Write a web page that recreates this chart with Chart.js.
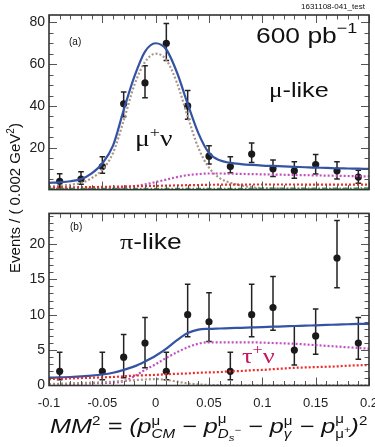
<!DOCTYPE html>
<html>
<head>
<meta charset="utf-8">
<script src="https://cdn.jsdelivr.net/npm/chart.js@4.4.1/dist/chart.umd.min.js"></script>
<style>
  body { margin: 0; background: #fff; }
  #wrap { position: relative; width: 375px; height: 447px; overflow: hidden; font-family: 'Liberation Sans', Arial, sans-serif; color: #111; }
  canvas { position: absolute; left: 0; }
  .t { position: absolute; line-height: 1; white-space: nowrap; }
  .sx { transform: scaleX(1.2); transform-origin: left top; }
  .gr { font-family: 'Liberation Serif', 'DejaVu Serif', serif; }
  .st { display: inline-block; vertical-align: -0.45em; font-size: 0.6em; line-height: 1.1; font-style: normal; }
  .st span { display: block; }
</style>
</head>
<body>
<div id="wrap">
  <canvas id="topChart" width="375" height="202" style="top:0"></canvas>
  <canvas id="botChart" width="375" height="246" style="top:201px"></canvas>

  <div class="t" style="left:301px;top:3px;font-size:8px">1631108-041_test</div>
  <div class="t sx" style="left:256px;top:20px;font-size:22px">600 pb<sup style="font-size:15px;vertical-align:10px">&minus;1</sup></div>
  <div class="t" style="left:69px;top:37px;font-size:10px">(a)</div>
  <div class="t sx" style="left:269px;top:79px;font-size:21px"><span class="gr">&mu;</span>-like</div>
  <div class="t sx gr" style="left:135px;top:125px;font-size:23px">&mu;<sup style="font-size:15px;vertical-align:9px">+</sup>&nu;</div>
  <div class="t" style="left:70px;top:222px;font-size:10px">(b)</div>
  <div class="t sx" style="left:120px;top:231px;font-size:22px"><span class="gr">&pi;</span>-like</div>
  <div class="t sx gr" style="left:242px;top:342px;font-size:22px;color:#c8175d">&tau;<sup style="font-size:15px;vertical-align:9px">+</sup>&nu;</div>
  <div class="t" style="left:14px;top:198px;font-size:15px;transform:translate(-50%,-50%) rotate(-90deg)">Events / ( 0.002 GeV<sup style="font-size:10px">2</sup>)</div>
  <div class="t" style="left:50px;top:413px;font-size:20px;font-style:italic;transform:scaleX(1.26);transform-origin:left top">MM<sup style="font-size:12px;font-style:normal">2</sup> = (p<span class="st"><span>&mu;</span><span style="font-style:italic">CM</span></span> &minus; p<span class="st"><span>&mu;</span><span style="font-style:italic">D<sub style="font-size:0.75em">s</sub><sup style="font-size:0.75em">&minus;</sup></span></span> &minus; p<span class="st"><span>&mu;</span><span style="font-style:italic">&gamma;</span></span> &minus; p<span class="st"><span>&mu;</span><span>&mu;<sup style="font-size:0.75em">+</sup></span></span>)<sup style="font-size:12px;font-style:normal">2</sup></div>
</div>

<script>
// fit curves are sampled on this grid
const xGrid = [-0.1, -0.09, -0.08, -0.07, -0.06, -0.05, -0.04, -0.03, -0.02, -0.01, 0, 0.01, 0.02, 0.03, 0.04, 0.05, 0.06, 0.07, 0.08, 0.09, 0.1, 0.11, 0.12, 0.13, 0.14, 0.15, 0.16, 0.17, 0.18, 0.19, 0.2];
const xTicks = [-0.1, -0.05, 0, 0.05, 0.1, 0.15, 0.2];

// (a) mu-like
const topX = [-0.09, -0.07, -0.05, -0.03, -0.01, 0.01, 0.03, 0.05, 0.07, 0.09, 0.11, 0.13, 0.15, 0.17, 0.19];
const topY = [4, 5, 11, 41, 51, 70, 40, 16, 11, 17, 10, 9, 12, 9, 6];
const topLo = [0.8, 2.6, 7.8, 34.8, 43.9, 61.7, 33.6, 12.3, 8.0, 13, 6.3, 5.4, 7.5, 5.1, 3.0];
const topHi = [7.6, 8.5, 15.7, 46.7, 59.2, 79.4, 47.4, 21, 15.7, 22.3, 14.2, 13.3, 16.8, 13.3, 9.3];
const topTotal = [3.2, 3.5, 4.0, 5.0, 7.8, 12.5, 21, 38, 54, 66, 70, 67, 56, 41, 27, 17.5, 14, 12.8, 12.2, 11.8, 11.5, 11.3, 11.1, 10.9, 10.7, 10.5, 10.4, 10.2, 10.1, 10.0, 9.9];
const topMuNu = [1.5, 1.8, 2.3, 3.2, 5.5, 9.5, 17.5, 33, 50, 61, 65, 62, 51, 35, 20, 10.5, 5.5, 3.3, 2.0, 1.1, 0.7, 0.5, 0.4, 0.3, 0.3, 0.2, 0.2, 0.2, 0.2, 0.2, 0.2];
const topTauNu = [0.3, 0.3, 0.3, 0.35, 0.4, 0.5, 0.7, 1.0, 1.6, 2.5, 3.6, 4.8, 6.0, 6.9, 7.4, 7.7, 7.7, 7.6, 7.5, 7.4, 7.3, 7.2, 7.1, 7.0, 6.9, 6.8, 6.7, 6.6, 6.5, 6.4, 6.3];
const topOther = [1.0, 1.05, 1.1, 1.15, 1.2, 1.3, 1.4, 1.5, 1.6, 1.7, 1.8, 1.9, 2.0, 2.1, 2.2, 2.3, 2.35, 2.4, 2.4, 2.45, 2.45, 2.45, 2.45, 2.45, 2.4, 2.4, 2.4, 2.4, 2.4, 2.4, 2.4];
const topPiNu = [0.3, 0.3, 0.3, 0.3, 0.3, 0.3, 0.3, 0.3, 0.3, 0.3, 0.3, 0.35, 0.35, 0.35, 0.35, 0.4, 0.4, 0.4, 0.4, 0.4, 0.45, 0.45, 0.45, 0.45, 0.5, 0.5, 0.5, 0.5, 0.5, 0.55, 0.55];
const topYTicks = [20, 40, 60, 80];

// (b) pi-like
const botX = [-0.09, -0.05, -0.03, -0.01, 0.01, 0.03, 0.05, 0.07, 0.09, 0.11, 0.13, 0.15, 0.17, 0.19];
const botY = [2, 2, 4, 6, 2, 10, 9, 2, 10, 11, 5, 7, 18, 6];
const botLo = [0.8, 0.8, 1.1, 2.5, 0.8, 6.9, 6.2, 0.8, 6.9, 7.8, 2.9, 4.4, 13.8, 3.7];
const botHi = [4.7, 4.7, 7.2, 9.6, 4.7, 14.3, 13.1, 4.7, 14.3, 15.4, 8.4, 10.8, 23.3, 9.6];
const botTotal = [1.1, 1.15, 1.2, 1.3, 1.4, 1.55, 1.8, 2.2, 2.7, 3.4, 4.2, 5.2, 6.4, 7.4, 7.9, 8.0, 8.05, 8.1, 8.15, 8.2, 8.25, 8.3, 8.35, 8.4, 8.45, 8.5, 8.55, 8.6, 8.65, 8.7, 8.7];
const botTauNu = [0.2, 0.2, 0.2, 0.25, 0.3, 0.35, 0.4, 0.6, 1.3, 2.2, 3.0, 3.9, 4.7, 5.4, 5.9, 6.1, 6.1, 6.1, 6.1, 6.1, 6.05, 6.0, 5.95, 5.9, 5.8, 5.7, 5.6, 5.5, 5.4, 5.3, 5.2];
const botOther = [0.9, 0.95, 1.0, 1.05, 1.1, 1.15, 1.2, 1.3, 1.4, 1.45, 1.5, 1.6, 1.65, 1.7, 1.8, 1.85, 1.9, 2.0, 2.05, 2.15, 2.2, 2.3, 2.4, 2.5, 2.55, 2.6, 2.65, 2.7, 2.8, 2.85, 2.9];
const botMuNu = [0.2, 0.25, 0.3, 0.35, 0.4, 0.45, 0.55, 0.65, 0.75, 0.85, 0.9, 0.8, 0.55, 0.3, 0.15, 0.08, 0.05, 0.04, 0.03, 0.03, 0.03, 0.03, 0.03, 0.03, 0.03, 0.03, 0.03, 0.03, 0.03, 0.03, 0.03];
const botYTicks = [0, 5, 10, 15, 20];

Chart.defaults.font.family = "'Liberation Sans', Arial, sans-serif";
Chart.defaults.color = '#222';

function pts(xs, ys) {
    return xs.map(function(x, i) { return { x: x, y: ys[i] }; });
}

function curve(ys, color, dash) {
    return {
        type: 'line',
        data: pts(xGrid, ys),
        borderColor: color,
        borderWidth: 2.2,
        borderDash: dash || [],
        pointRadius: 0,
        cubicInterpolationMode: 'monotone',
        fill: false
    };
}

function points(xs, ys, lo, hi) {
    return {
        type: 'scatter',
        data: pts(xs, ys),
        errLo: lo,
        errHi: hi,
        pointRadius: 3.6,
        pointBackgroundColor: '#1a1a1a',
        pointBorderColor: '#1a1a1a',
        pointBorderWidth: 0
    };
}

// scale widths fixed so both panels line up
function fixY(s) { s.width = 49; }
function fixX(s) { s.height = 61.5; s.paddingLeft = 0; s.paddingRight = 0; }

// error bars, frame and inward ticks
const hepPlugin = {
    id: 'hep',
    beforeDatasetsDraw(chart) {
        const ctx = chart.ctx;
        const ys = chart.scales.y;
        chart.data.datasets.forEach(function(ds, i) {
            if (!ds.errLo) return;
            chart.getDatasetMeta(i).data.forEach(function(pt, j) {
                const y1 = ys.getPixelForValue(ds.errLo[j]);
                const y2 = ys.getPixelForValue(ds.errHi[j]);
                ctx.save();
                ctx.strokeStyle = '#222';
                ctx.lineWidth = 1.5;
                ctx.beginPath();
                ctx.moveTo(pt.x, y1); ctx.lineTo(pt.x, y2);
                ctx.moveTo(pt.x - 2.8, y1); ctx.lineTo(pt.x + 2.8, y1);
                ctx.moveTo(pt.x - 2.8, y2); ctx.lineTo(pt.x + 2.8, y2);
                ctx.stroke();
                ctx.restore();
            });
        });
    },
    afterDraw(chart, args, opts) {
        const ctx = chart.ctx;
        const a = chart.chartArea;
        const xs = chart.scales.x, ys = chart.scales.y;
        ctx.save();
        ctx.strokeStyle = '#555';
        ctx.lineWidth = 1;
        ctx.beginPath();
        // x ticks, minor every 0.01
        for (let k = 0; k <= 30; k++) {
            const v = -0.1 + k * 0.01;
            const px = Math.round(xs.getPixelForValue(v)) + 0.5;
            const len = k % 5 === 0 ? 8 : 4.5;
            ctx.moveTo(px, a.bottom); ctx.lineTo(px, a.bottom - len);
            ctx.moveTo(px, a.top); ctx.lineTo(px, a.top + len);
        }
        // y ticks
        const n = Math.floor(ys.max / opts.minor);
        for (let k = 1; k <= n; k++) {
            const v = k * opts.minor;
            const py = Math.round(ys.getPixelForValue(v)) + 0.5;
            const len = v % opts.major === 0 ? 8 : 4.5;
            ctx.moveTo(a.left, py); ctx.lineTo(a.left + len, py);
            ctx.moveTo(a.right, py); ctx.lineTo(a.right - len, py);
        }
        ctx.stroke();
        ctx.strokeStyle = '#333';
        ctx.lineWidth = 1.6;
        ctx.strokeRect(a.left, a.top, a.right - a.left, a.bottom - a.top);
        ctx.restore();
    }
};

const BLUE = '#3553a4', BROWN = '#a8968a', MAGENTA = '#c250c0', RED = '#f02828', GREEN = '#2aa048';

new Chart(document.getElementById('topChart'), {
    data: {
        datasets: [
            curve(topPiNu, GREEN, [5, 2, 1.5, 2]),
            curve(topOther, RED, [2, 2]),
            curve(topTauNu, MAGENTA, [2, 2]),
            curve(topMuNu, BROWN, [2, 2]),
            curve(topTotal, BLUE),
            points(topX, topY, topLo, topHi)
        ]
    },
    options: {
        responsive: false,
        animation: false,
        devicePixelRatio: 1,
        layout: { padding: { top: 15, right: 6, bottom: 1, left: 0 } },
        plugins: { legend: { display: false }, tooltip: { enabled: false }, hep: { minor: 5, major: 20 } },
        scales: {
            x: { type: 'linear', min: -0.1, max: 0.2, display: false },
            y: {
                min: 0, max: 83.5,
                afterBuildTicks: function(s) { s.ticks = topYTicks.map(function(v) { return { value: v }; }); },
                afterFit: fixY,
                grid: { display: false, drawTicks: false },
                border: { display: false },
                ticks: { font: { size: 14 }, padding: 4 }
            }
        }
    },
    plugins: [hepPlugin]
});

new Chart(document.getElementById('botChart'), {
    data: {
        datasets: [
            curve(botMuNu, BROWN, [2, 2]),
            curve(botOther, RED, [2, 2]),
            curve(botTauNu, MAGENTA, [2, 2]),
            curve(botTotal, BLUE),
            points(botX, botY, botLo, botHi)
        ]
    },
    options: {
        responsive: false,
        animation: false,
        devicePixelRatio: 1,
        layout: { padding: { top: 1, right: 6, bottom: 0, left: 0 } },
        plugins: { legend: { display: false }, tooltip: { enabled: false }, hep: { minor: 1, major: 5 } },
        scales: {
            x: {
                type: 'linear', min: -0.1, max: 0.2,
                afterBuildTicks: function(s) { s.ticks = xTicks.map(function(v) { return { value: v }; }); },
                afterFit: fixX,
                grid: { display: false, drawTicks: false },
                border: { display: false },
                ticks: { font: { size: 13 }, padding: 10, maxRotation: 0, callback: function(v) { return String(v); } }
            },
            y: {
                min: 0, max: 24.3,
                afterBuildTicks: function(s) { s.ticks = botYTicks.map(function(v) { return { value: v }; }); },
                afterFit: fixY,
                grid: { display: false, drawTicks: false },
                border: { display: false },
                ticks: { font: { size: 14 }, padding: 4 }
            }
        }
    },
    plugins: [hepPlugin]
});
</script>
</body>
</html>
